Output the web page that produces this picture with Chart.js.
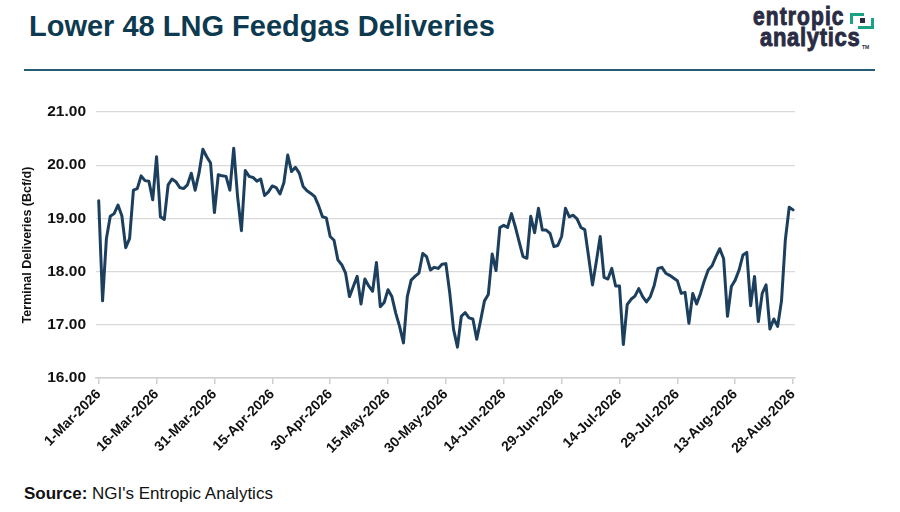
<!DOCTYPE html>
<html>
<head>
<meta charset="utf-8">
<script src="https://cdn.jsdelivr.net/npm/chart.js@4.4.1/dist/chart.umd.min.js"></script>
<style>
  html, body { margin: 0; padding: 0; background: #fff; }
  body { width: 900px; height: 512px; position: relative; overflow: hidden;
         font-family: "Liberation Sans", Arial, sans-serif; }
  #title { position: absolute; left: 29px; top: 12px; font-size: 29px; line-height: 29px;
           font-weight: bold; color: #0e3a4f; white-space: nowrap; }
  #rule { position: absolute; left: 24px; top: 69px; width: 851px; height: 2px; background: #245d74; }
  .logo { position: absolute; font-family: "Liberation Sans", Arial, sans-serif;
          font-weight: bold; color: #2a2c44; white-space: nowrap;
          -webkit-text-stroke: 0.8px #2a2c44;
          transform-origin: left top; transform: scaleY(1.2); }
  #logo1 { left: 753px; top: 3px; font-size: 21px; line-height: 21px; letter-spacing: 1.1px; }
  #logo2 { left: 760px; top: 24px; font-size: 22px; line-height: 22px; letter-spacing: 0.7px; }
  #tm { position: absolute; left: 862px; top: 44px; font-size: 5px; font-weight: bold; color: #2a2c44; }
  .teal { position: absolute; background: #1aa284; }
  #dot { position: absolute; left: 860px; top: 18px; width: 5px; height: 5px; background: #2a2c44; }
  #wrap { position: absolute; left: 0; top: 80px; width: 900px; height: 400px; }
  #source { position: absolute; left: 24px; top: 484px; font-size: 17px; line-height: 19px; color: #111; }
</style>
</head>
<body>
<div id="title">Lower 48 LNG Feedgas Deliveries</div>
<div class="logo" id="logo1">entropic</div>
<div class="logo" id="logo2">analytics</div>
<div id="tm">TM</div>
<div class="teal" style="left:850px;top:13px;width:14px;height:3px;"></div>
<div class="teal" style="left:850px;top:13px;width:3px;height:11px;"></div>
<div class="teal" style="left:871px;top:18px;width:3px;height:11px;"></div>
<div class="teal" style="left:858px;top:26px;width:16px;height:3px;"></div>
<div id="dot"></div>
<div id="rule"></div>
<div id="wrap"><canvas id="chart"></canvas></div>
<div id="source"><b>Source:</b> NGI's Entropic Analytics</div>

<script>
// ======================================
// DATA (Bcf/d, one value per day, 1-Mar-2026 .. 28-Aug-2026)
// ======================================

const tickDays = [0, 15, 30, 45, 60, 75, 90, 105, 120, 135, 150, 165, 180];
const tickLabels = [
  "1-Mar-2026", "16-Mar-2026", "31-Mar-2026", "15-Apr-2026", "30-Apr-2026",
  "15-May-2026", "30-May-2026", "14-Jun-2026", "29-Jun-2026", "14-Jul-2026",
  "29-Jul-2026", "13-Aug-2026", "28-Aug-2026",
];
const yTicks = [16, 17, 18, 19, 20, 21];

const feedgas = [
  19.33, 17.45, 18.62, 19.04, 19.09, 19.25, 19.05, 18.45, 18.62, 19.53,
  19.56, 19.80, 19.71, 19.70, 19.35, 20.16, 19.03, 18.98, 19.63, 19.74,
  19.69, 19.58, 19.56, 19.63, 19.85, 19.53, 19.85, 20.30, 20.16, 20.04,
  19.11, 19.82, 19.80, 19.79, 19.53, 20.32, 19.41, 18.77, 19.90, 19.79,
  19.77, 19.70, 19.74, 19.43, 19.50, 19.61, 19.58, 19.46, 19.67, 20.19,
  19.88, 19.96, 19.85, 19.60, 19.52, 19.47, 19.41, 19.24, 19.03, 19.01,
  18.66, 18.59, 18.22, 18.13, 17.97, 17.53, 17.72, 17.91, 17.39, 17.86,
  17.73, 17.63, 18.17, 17.34, 17.42, 17.66, 17.53, 17.22, 16.97, 16.66,
  17.53, 17.84, 17.91, 17.97, 18.34, 18.28, 18.03, 18.08, 18.06, 18.14,
  18.15, 17.60, 16.91, 16.58, 17.16, 17.23, 17.13, 17.11, 16.73, 17.08,
  17.45, 17.57, 18.33, 18.02, 18.83, 18.87, 18.83, 19.09, 18.84, 18.56,
  18.28, 18.25, 19.04, 18.73, 19.19, 18.78, 18.78, 18.72, 18.47, 18.49,
  18.66, 19.19, 19.03, 19.06, 18.99, 18.83, 18.79, 18.28, 17.75, 18.19,
  18.66, 17.89, 17.86, 18.06, 17.73, 17.73, 16.63, 17.38, 17.48, 17.54,
  17.68, 17.53, 17.43, 17.53, 17.74, 18.06, 18.08, 17.97, 17.93, 17.88,
  17.83, 17.59, 17.61, 17.03, 17.59, 17.39, 17.59, 17.83, 18.03, 18.11,
  18.28, 18.43, 18.24, 17.16, 17.72, 17.84, 18.03, 18.31, 18.36, 17.36,
  17.91, 17.06, 17.59, 17.75, 16.92, 17.11, 16.97, 17.45, 18.60, 19.21,
  19.16,
];

// ======================================
// CHART
// ======================================

const fontFamily = '"Liberation Sans", Arial, sans-serif';

new Chart(document.getElementById("chart"), {
  type: "line",
  data: {
    datasets: [
      {
        label: "Terminal Deliveries",
        data: feedgas.map((v, i) => ({ x: i, y: v })),
        borderColor: "#1d3f5e",
        borderWidth: 3,
        borderJoinStyle: "round",
        borderCapStyle: "round",
        pointRadius: 0,
        tension: 0,
        fill: false,
      },
    ],
  },
  options: {
    responsive: true,
    maintainAspectRatio: false,
    animation: false,
    layout: { padding: { left: 14, top: 32, right: 105, bottom: 0 } },
    plugins: {
      legend: { display: false },
      tooltip: { enabled: false },
    },
    scales: {
      x: {
        type: "linear",
        min: -0.7,
        max: 180.5,
        afterBuildTicks: (axis) => {
          axis.ticks = tickDays.map((v) => ({ value: v }));
        },
        afterFit: (axis) => { axis.height = 102; },
        ticks: {
          autoSkip: false,
          maxRotation: 45,
          minRotation: 45,
          padding: 2,
          color: "#111",
          font: { family: fontFamily, size: 14, weight: "bold" },
          callback: (value) => tickLabels[tickDays.indexOf(value)],
        },
        grid: {
          drawOnChartArea: false,
          tickLength: 6,
          color: "#cfcfcf",
          lineWidth: 1.5,
        },
        border: { color: "#cfcfcf", width: 1.5 },
      },
      y: {
        min: 16,
        max: 21,
        afterBuildTicks: (axis) => {
          axis.ticks = yTicks.map((v) => ({ value: v }));
        },
        afterFit: (axis) => { axis.width = 82; },
        ticks: {
          padding: 10,
          color: "#111",
          font: { family: fontFamily, size: 15.5, weight: "bold" },
          callback: (value) => Number(value).toFixed(2),
        },
        grid: { color: "#d9d9d9", lineWidth: 1.2, drawTicks: false },
        border: { display: false },
        title: {
          display: true,
          text: "Terminal Deliveries (Bcf/d)",
          color: "#111",
          padding: { top: 6, bottom: 0 },
          font: { family: fontFamily, size: 12.5, weight: "bold" },
        },
      },
    },
  },
});
</script>
</body>
</html>
